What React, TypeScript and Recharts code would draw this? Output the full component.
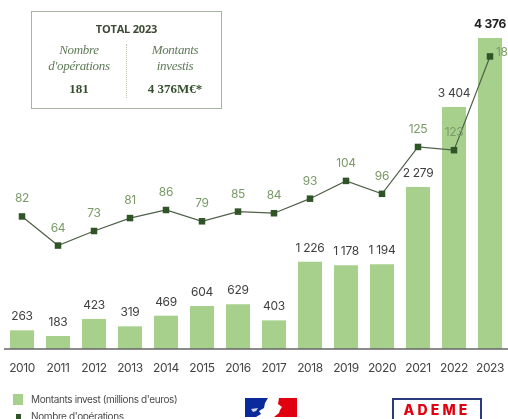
import { Bar, ComposedChart, LabelList, Legend, Line, XAxis, YAxis } from "recharts";

const years = ["2010", "2011", "2012", "2013", "2014", "2015", "2016", "2017", "2018", "2019", "2020", "2021", "2022", "2023"];
const montants = [263, 183, 423, 319, 469, 604, 629, 403, 1226, 1178, 1194, 2279, 3404, 4376];
const operations = [82, 64, 73, 81, 86, 79, 85, 84, 93, 104, 96, 125, 123, 181];

const data = years.map((year, i) => ({ year, montants: montants[i], operations: operations[i] }));

const font = "Inter, sans-serif";
const serif = "'Liberation Serif', serif";

const fmt = (v: number) => String(v).replace(/\B(?=(\d{3})+$)/g, " ");

function BarLabel({ x, y, width, value, index }: any) {
  const last = index === years.length - 1;
  return (
    <text x={x + width / 2} y={y - 10} textAnchor="middle" fontFamily={font} fontSize={12} letterSpacing={-0.3}
      fontWeight={last ? 700 : 400} fill={last ? "#222" : "#3f3f3f"}>
      {fmt(value)}
    </text>
  );
}

function OpsLabel({ x, y, value, index }: any) {
  const last = index === years.length - 1;
  return (
    <text x={last ? x + 6 : x} y={last ? y : y - 14} textAnchor={last ? "start" : "middle"} fontFamily={font} fontSize={12}
      letterSpacing={-0.3} fill="#7a9a68">
      {value}
    </text>
  );
}

function Square({ cx, cy, index }: any) {
  return <rect key={index} x={cx - 3.25} y={cy - 3.25} width={6.5} height={6.5} fill="#2f5526" />;
}

function ChartLegend() {
  const row = { display: "flex", alignItems: "center", height: 16, fontFamily: font, fontSize: 10, letterSpacing: -0.38, color: "#4a4a4a" };
  return (
    <div style={{ position: "absolute", left: 13, top: 391 }}>
      <div style={row}>
        <span style={{ width: 10, height: 11, background: "#a8d08d", marginRight: 8 }} />
        Montants invest (millions d'euros)
      </div>
      <div style={{ ...row, marginTop: 1 }}>
        <span style={{ width: 10, display: "flex", justifyContent: "center", marginRight: 8 }}>
          <span style={{ width: 5, height: 5, background: "#2f5526" }} />
        </span>
        Nombre d'opérations
      </div>
    </div>
  );
}

function TotalBox() {
  const cell = { position: "absolute" as const, width: 80, textAlign: "center" as const, fontFamily: serif };
  const label = { fontStyle: "italic", fontSize: 13, lineHeight: "16px", color: "#5f7a58", letterSpacing: -0.3 };
  const num = { position: "absolute" as const, top: 69, width: 80, fontWeight: 700, fontSize: 13, color: "#34502c" };
  return (
    <div style={{ position: "absolute", left: 31, top: 11, width: 191, height: 98, border: "1.5px solid #a9b3a1", boxSizing: "border-box", fontFamily: serif }}>
      <div style={{ position: "absolute", top: 9, width: "100%", textAlign: "center", fontFamily: "'Open Sans', sans-serif", fontWeight: 700, fontSize: 11, color: "#3c4a34", letterSpacing: -0.2 }}>
        TOTAL 2023
      </div>
      <div style={{ position: "absolute", left: 94, top: 32, height: 54, borderLeft: "1px dotted #b8c0b0" }} />
      <div style={{ ...cell, left: 7, top: 30, ...label }}>Nombre<br />d'opérations</div>
      <div style={{ ...num, left: 7, textAlign: "center", fontFamily: serif }}>181</div>
      <div style={{ ...cell, left: 103, top: 30, ...label }}>Montants<br />investis</div>
      <div style={{ ...num, left: 103, textAlign: "center", fontFamily: serif }}>4 376M€*</div>
    </div>
  );
}

function Logos() {
  return (
    <>
      <svg style={{ position: "absolute", left: 245, top: 398 }} width={53} height={19}>
        <path d="M0 0H23L20 5L19 10L14 13L16 16L11 19H0Z" fill="#0a2a9c" />
        <path d="M6 11L13 10L11 13L8 14Z" fill="#cfd6ee" />
        <path d="M34 0H52V19H29L34 15L35 12L37 9L33 6Z" fill="#e1000f" />
      </svg>
      <div style={{ position: "absolute", left: 392, top: 398, width: 90, height: 30, border: "2px solid #2b3a7c", boxSizing: "border-box", textAlign: "center", fontFamily: font, fontWeight: 800, fontSize: 14, letterSpacing: 3.2, color: "#e1000f", paddingTop: 1 }}>
        ADEME
      </div>
    </>
  );
}

export default function App() {
  return (
    <div style={{ position: "absolute", left: 0, top: 0, width: 508, height: 419, overflow: "hidden", background: "#fff", filter: "blur(0.4px)" }}>
      <ComposedChart width={508} height={419} data={data} margin={{ top: 38, right: 0, bottom: 40, left: 4 }} barSize={24}>
        <XAxis dataKey="year" interval={0} tickLine={false} stroke="#666" strokeWidth={1.5} tickMargin={8}
          tick={{ fontFamily: font, fontSize: 12, fill: "#444", letterSpacing: -0.4 }} />
        <YAxis yAxisId="m" hide domain={[0, 4376]} />
        <YAxis yAxisId="o" hide domain={[0, 192.4]} orientation="right" />
        <Legend content={() => null} />
        <Bar yAxisId="m" dataKey="montants" name="Montants invest (millions d'euros)" fill="#a8d08d" isAnimationActive={false}>
          <LabelList dataKey="montants" content={BarLabel} />
        </Bar>
        <Line yAxisId="o" dataKey="operations" name="Nombre d'opérations" stroke="#4f6048" strokeWidth={1.2} dot={Square} activeDot={false} isAnimationActive={false}>
          <LabelList dataKey="operations" content={OpsLabel} />
        </Line>
      </ComposedChart>
      <TotalBox />
      <ChartLegend />
      <Logos />
    </div>
  );
}
